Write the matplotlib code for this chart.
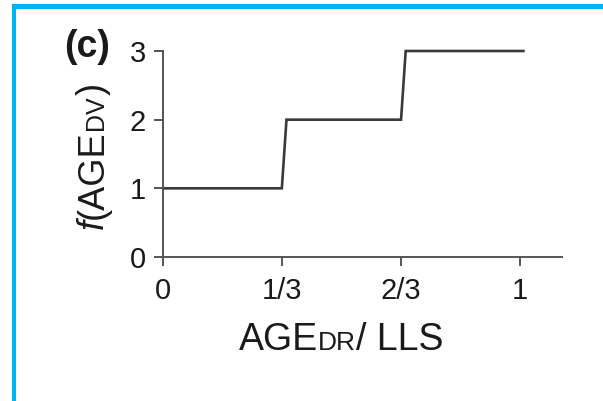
import matplotlib
matplotlib.use('Agg')
import matplotlib.pyplot as plt
from matplotlib.patches import Rectangle

plt.rcParams['font.family'] = ['Liberation Sans', 'DejaVu Sans']

# step function
step_x = [0, 0.333, 0.346, 0.667, 0.680, 1.01]
step_y = [1, 1, 2, 2, 3, 3]

xtick_pos = [0, 1/3, 2/3, 1]
xtick_labels = ['0', '1/3', '2/3', '1']
ytick_pos = [0, 1, 2, 3]

W, H = 603, 401
BORDER = '#00b4f0'
AXCOL = '#555555'


def main():
    fig = plt.figure(figsize=(W / 100, H / 100), dpi=100)
    ax = fig.add_axes([163 / W, 1 - 257 / H, (562 - 163) / W, (257 - 51) / H])

    ax.plot(step_x, step_y, color='#3a3a3a', lw=1.9, clip_on=False,
            solid_joinstyle='miter')
    ax.set_xlim(0, 1.118)
    ax.set_ylim(0, 3)

    for s in ['top', 'right']:
        ax.spines[s].set_visible(False)
    for s in ['left', 'bottom']:
        ax.spines[s].set_color(AXCOL)
        ax.spines[s].set_linewidth(1.4)

    ax.set_xticks(xtick_pos)
    ax.set_xticklabels(xtick_labels)
    ax.set_yticks(ytick_pos)
    ax.tick_params(direction='out', length=6.5, width=1.4, color=AXCOL,
                   labelsize=21, labelcolor='#1a1a1a')
    ax.tick_params(axis='x', pad=8)
    ax.tick_params(axis='y', pad=6)

    fig.canvas.draw()
    r = fig.canvas.get_renderer()

    # x label: AGE + small-caps DR + / LLS, centred under 0..1
    parts = [('AGE', 27), ('DR', 19), ('/ LLS', 27)]
    texts = [fig.text(0, 0, s, fontsize=fs, color='#1a1a1a', va='baseline')
             for s, fs in parts]
    widths = [t.get_window_extent(r).width for t in texts]
    cx = ax.transData.transform((0.5, 0))[0]
    x = cx - sum(widths) / 2
    base = H - 350
    for t, w in zip(texts, widths):
        t.set_position((x / W, base / H))
        x += w

    # y label: f(AGE + small-caps DV + ), rotated
    yparts = [('f', 26, 'italic'), ('(AGE', 26, 'normal'),
              ('DV', 18, 'normal'), (')', 26, 'normal')]
    ytexts = [fig.text(0, 0, s, fontsize=fs, style=st, color='#1a1a1a',
                       rotation=90, rotation_mode='anchor',
                       ha='left', va='baseline')
              for s, fs, st in yparts]
    heights = [t.get_window_extent(r).height for t in ytexts]
    cy = H - 156
    y = cy - sum(heights) / 2
    for t, h in zip(ytexts, heights):
        t.set_position((103 / W, y / H))
        y += h

    fig.text(64 / W, 1 - 57 / H, '(c)', fontsize=27, fontweight='bold',
             color='#1a1a1a', va='baseline')

    # cyan frame on top and left edge
    fig.patches.append(Rectangle((12 / W, 1 - 9 / H), 1, 5 / H,
                                 transform=fig.transFigure, color=BORDER,
                                 lw=0))
    fig.patches.append(Rectangle((12 / W, 0), 4 / W, 1 - 4 / H,
                                 transform=fig.transFigure, color=BORDER,
                                 lw=0))

    fig.savefig('out.png', dpi=100)


if __name__ == "__main__":
    main()
